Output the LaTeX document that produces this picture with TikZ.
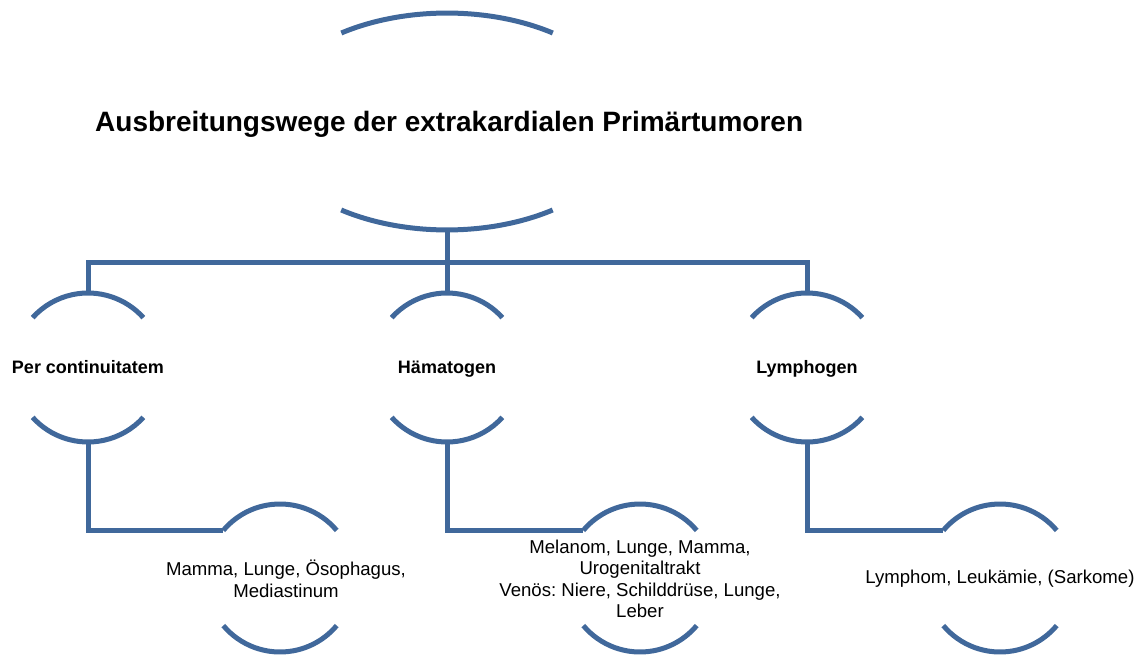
\documentclass[tikz,border=0pt]{standalone}
\usepackage{fontspec}
\setmainfont{Liberation Sans}
\usepackage{xcolor}
\usepackage{tikz}
\usetikzlibrary{positioning, calc}
\frenchspacing
\definecolor{bowblue}{RGB}{64,104,155}
\tikzset{
    bow/.style={
        draw=bowblue,
        line width=5pt,
    },
    link/.style={
        draw=bowblue,
        line width=5pt,
    },
    headline/.style={
        font=\bfseries\fontsize{28}{32}\selectfont,
        inner sep=0pt,
    },
    branch/.style={
        font=\bfseries\fontsize{18}{21}\selectfont,
        inner sep=0pt,
    },
    leaf/.style={
        font=\fontsize{18.6}{21.5}\selectfont,
        align=center,
        inner sep=0pt,
    },
}
\newcommand{\bowpair}[3]{
    \draw[bow] ([shift={(90-#3:#2)}]#1) arc[start angle=90-#3, end angle=90+#3, radius=#2];
    \draw[bow] ([shift={(270-#3:#2)}]#1) arc[start angle=270-#3, end angle=270+#3, radius=#2];
}
\begin{document}
\begin{tikzpicture}[x=1pt, y=1pt]
      \useasboundingbox (0,0) rectangle (1145,-655);

      \coordinate (M) at (447,-121.5);
      \node [headline, anchor=base west] (Mt) at (95,-132) {Ausbreitungswege der extrakardialen Primärtumoren};
      \draw[bow] ([shift={(105.8,88.5)}]M) arc[start angle=54.7, end angle=125.3, x radius=183, y radius=108.5];
      \draw[bow] ([shift={(-105.8,-88.5)}]M) arc[start angle=234.7, end angle=305.3, x radius=183, y radius=108.5];
      \coordinate (M-bot) at ($(M)+(0,-108.5)$);

      \coordinate (PC) at (88,-367.5);
      \coordinate (HA) at (447,-367.5);
      \coordinate (LY) at (807,-367.5);
      \node [branch, anchor=base] (PCt) at (88,-373) {Per continuitatem};
      \node [branch, anchor=base] (HAt) at (447,-373) {Hämatogen};
      \node [branch, anchor=base] (LYt) at (807,-373) {Lymphogen};
      \bowpair{PC}{74.5}{48}
      \bowpair{HA}{74.5}{48}
      \bowpair{LY}{74.5}{48}

      \coordinate (PC-top) at ($(PC)+(0,74.5)$);
      \coordinate (HA-top) at ($(HA)+(0,74.5)$);
      \coordinate (LY-top) at ($(LY)+(0,74.5)$);
      \coordinate (PC-bot) at ($(PC)+(0,-74.5)$);
      \coordinate (HA-bot) at ($(HA)+(0,-74.5)$);
      \coordinate (LY-bot) at ($(LY)+(0,-74.5)$);

      \coordinate (PCm) at (280,-578);
      \coordinate (HAm) at (640,-578);
      \coordinate (LYm) at (1000,-578);
      \node [leaf] (PCmt) at (286,-579) {Mamma, Lunge, Ösophagus,\\Mediastinum};
      \node [leaf] (HAmt) at (640,-579) {Melanom, Lunge, Mamma,\\Urogenitaltrakt\\Venös: Niere, Schilddrüse, Lunge,\\Leber};
      \node [leaf] (LYmt) at (1000,-579) {Lymphom, Leukämie, (Sarkome)};
      \bowpair{PCm}{74}{50}
      \bowpair{HAm}{74}{50}
      \bowpair{LYm}{74}{50}

      \coordinate (PCm-in) at ($(PCm)+(140:74)$);
      \coordinate (HAm-in) at ($(HAm)+(140:74)$);
      \coordinate (LYm-in) at ($(LYm)+(140:74)$);

      \coordinate (bus) at (447,-262);
      \draw[link] (M-bot) -- (HA-top);
      \draw[link] (PC-top) -- (PC-top |- bus) -- (LY-top |- bus) -- (LY-top);

      \draw[link] (PC-bot) |- (PCm-in);
      \draw[link] (HA-bot) |- (HAm-in);
      \draw[link] (LY-bot) |- (LYm-in);
    \end{tikzpicture}
\end{document}
